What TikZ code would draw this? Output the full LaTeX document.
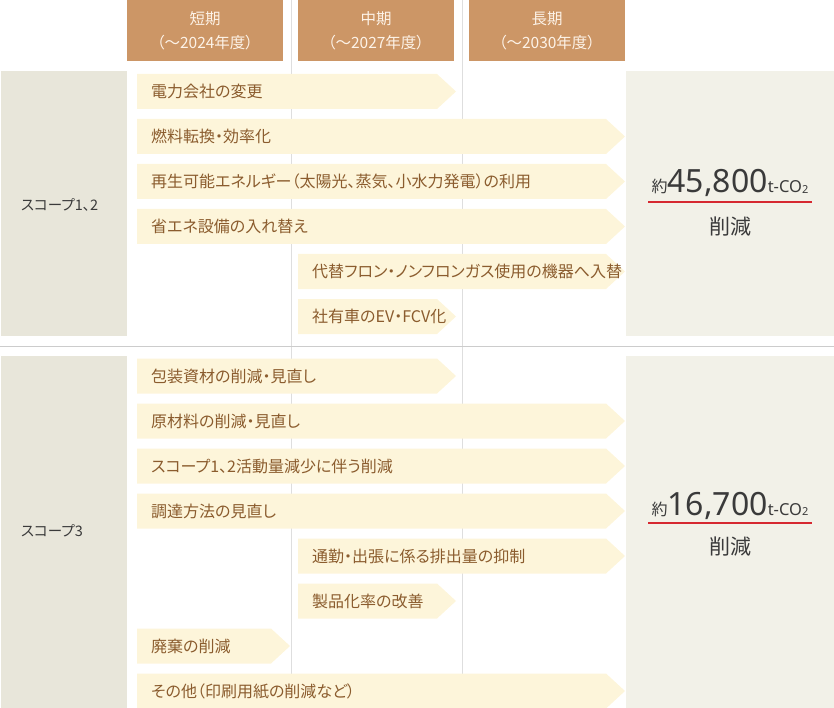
\documentclass[tikz,border=0pt]{standalone}
\usepackage{fontspec}
\setmainfont[RawFeature=+palt]{Noto Sans CJK JP}
\newfontfamily\numfont{Noto Sans}

\definecolor{headfill}{RGB}{204,150,102}
\definecolor{headtext}{RGB}{253,243,232}
\definecolor{planfill}{RGB}{253,245,218}
\definecolor{plantext}{RGB}{139,92,46}
\definecolor{scopefill}{RGB}{232,230,218}
\definecolor{totalfill}{RGB}{242,241,232}
\definecolor{gridline}{RGB}{222,222,222}
\definecolor{sepline}{RGB}{204,204,204}
\definecolor{wavered}{RGB}{214,40,48}
\definecolor{ink}{RGB}{58,58,58}

\newcommand{\plan}[5]{%
  \fill[planfill] (#2,#4) -- (#3-19,#4) -- (#3,#4+17.5) -- (#3-19,#4+35) -- (#2,#4+35) -- cycle;
  \node[plantxt] (#1) at (#2+14,#4+17.5) {#5};
}

\begin{document}
\begin{tikzpicture}[x=1pt,y=-1pt,
  head/.style={fill=headfill,text=headtext,minimum width=156pt,minimum height=61pt,
    inner sep=0pt,align=center,font=\fontsize{15.5}{24}\selectfont},
  plantxt/.style={anchor=west,inner sep=0pt,text=plantext,font=\fontsize{16}{18}\selectfont},
  scopelabel/.style={anchor=west,inner sep=0pt,text=ink,font=\fontsize{14.5}{16}\selectfont},
  cutlabel/.style={inner sep=0pt,text=ink,font=\fontsize{21}{24}\selectfont},
  wave/.style={draw=wavered,line width=1.3pt}]

\useasboundingbox (0,0) rectangle (834,708);

\path [draw,gridline]
    (291,0) -- (291,708)
    (462,0) -- (462,708)
;

\node[head] (short) at (205,30.5) {短期\\（～2024年度）};
\node[head] (middle) at (376,30.5) {中期\\（～2027年度）};
\node[head] (long) at (547,30.5) {長期\\（～2030年度）};

\fill[scopefill] (1,71) rectangle (127,336);
\fill[scopefill] (1,356) rectangle (127,708);
\fill[totalfill] (626,71) rectangle (834,336);
\fill[totalfill] (626,356) rectangle (834,708);

\path [draw,sepline] (0,346) -- (834,346);

\node[scopelabel] (scope12) at (21,205) {スコープ1、2};
\node[scopelabel] (scope3) at (21,531) {スコープ3};

\plan{power}{137}{456}{74}{電力会社の変更}
\plan{fuel}{137}{625}{119}{燃料転換・効率化}
\plan{renew}{137}{625}{164}{再生可能エネルギー（太陽光、蒸気、小水力発電）の利用}
\plan{saving}{137}{625}{209}{省エネ設備の入れ替え}
\plan{freon}{298}{625}{254}{代替フロン・ノンフロンガス使用の機器へ入替}
\plan{fleet}{298}{456}{299}{社有車のEV・FCV化}

\plan{packing}{137}{456}{358.5}{包装資材の削減・見直し}
\plan{material}{137}{625}{403.5}{原材料の削減・見直し}
\plan{activity}{137}{625}{448.5}{スコープ1、2活動量減少に伴う削減}
\plan{procure}{137}{625}{493.5}{調達方法の見直し}
\plan{commute}{298}{625}{538.5}{通勤・出張に係る排出量の抑制}
\plan{yield}{298}{456}{583.5}{製品化率の改善}
\plan{waste}{137}{290}{628.5}{廃棄の削減}
\plan{other}{137}{625}{673.5}{その他（印刷用紙の削減など）}

\node[anchor=base,inner sep=0pt,text=ink] (total12) at (730,193)
    {{\fontsize{16}{16}\selectfont 約}{\numfont\fontsize{32}{32}\selectfont 45,800}{\numfont\fontsize{16.5}{16}\selectfont t-CO\raisebox{-0.5pt}{\fontsize{11}{11}\selectfont 2}}};
\draw[wave] (648,202) -- (812,202);
\node[cutlabel] (cut12) at (730,227) {削減};

\node[anchor=base,inner sep=0pt,text=ink] (total3) at (730,515)
    {{\fontsize{16}{16}\selectfont 約}{\numfont\fontsize{32}{32}\selectfont 16,700}{\numfont\fontsize{16.5}{16}\selectfont t-CO\raisebox{-0.5pt}{\fontsize{11}{11}\selectfont 2}}};
\draw[wave] (648,523) -- (812,523);
\node[cutlabel] (cut3) at (730,547) {削減};

\end{tikzpicture}
\end{document}
